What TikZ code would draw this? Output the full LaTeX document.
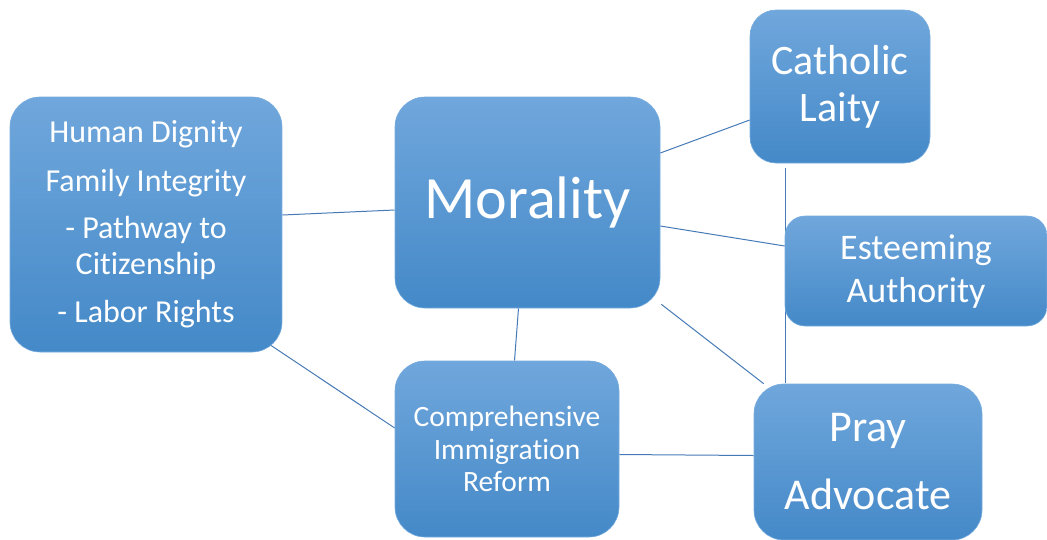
\documentclass[tikz,border=0pt]{standalone}
\usepackage{fontspec}
\setmainfont{Carlito}[Ligatures=NoCommon]
\usetikzlibrary{calc,backgrounds}
\definecolor{boxtop}{RGB}{112,167,220}
\definecolor{boxmid}{RGB}{84,151,215}
\definecolor{boxbot}{RGB}{68,137,200}
\definecolor{boxedge}{RGB}{120,172,222}
\definecolor{linkcol}{RGB}{70,122,182}
\tikzset{
  box/.style={shade, top color=boxtop, middle color=boxmid, bottom color=boxbot,
    draw=boxedge, line width=0.6pt, rounded corners=#1, inner sep=0pt,
    text=white, align=center},
  box/.default=30pt,
  link/.style={draw=linkcol, line width=1pt}
}
\begin{document}
\begin{tikzpicture}[x=1pt,y=-1pt]
\useasboundingbox (0,0) rectangle (1047,539);
\node[box, minimum width=272pt, minimum height=255pt, font={\fontsize{32}{36}\selectfont}] (left) at (146,224.5)
  {Human Dignity\\[13pt]Family Integrity\\[11pt]- Pathway to\\Citizenship\\[12pt]- Labor Rights};
\node[box, minimum width=265pt, minimum height=211pt, font={\fontsize{60}{72}\selectfont}] (moral) at (527.5,202.5)
  {Morality};
\node[box=26pt, minimum width=180pt, minimum height=153pt, font={\fontsize{42}{47}\selectfont}] (cath) at (840,86.5)
  {Catholic\\Laity};
\node[box=20pt, minimum width=262pt, minimum height=110pt, font={\fontsize{36}{43}\selectfont}] (esteem) at (916,271)
  {\vphantom{Ay}\\[-40pt]Esteeming\\Authority};
\node[box, minimum width=224pt, minimum height=176pt, font={\fontsize{29.5}{32.5}\selectfont}] (cir) at (507,449)
  {Comprehensive\\Immigration\\Reform};
\node[box, minimum width=228pt, minimum height=156pt, font={\fontsize{44}{52}\selectfont}] (pray) at (868,462)
  {Pray\\[16pt]Advocate};
\begin{scope}[on background layer]
\draw[link] ($(left.east)+(0,-9.5)$) -- ($(moral.west)+(0,7.5)$);
\draw[link] ($(moral.east)+(0,-49.5)$) -- ($(cath.west)+(0,33.5)$);
\draw[link] ($(moral.east)+(0,23.5)$) -- ($(esteem.west)+(0,-25)$);
\draw[link] ($(moral.south east)+(1,-4)$) -- ($(pray.north west)+(10,0)$);
\draw[link] ($(moral.south)+(-9,0)$) -- ($(cir.north)+(7.5,0)$);
\draw[link] ($(left.south east)+(-22,-14)$) -- ($(cir.west)+(0,-21)$);
\draw[link] ($(cir.east)+(0,5.5)$) -- ($(pray.west)+(0,-6.5)$);
\draw[link] ($(cath.south)+(-55,5)$) -- ($(pray.north)+(-83,-1)$);
\end{scope}
\end{tikzpicture}
\end{document}
